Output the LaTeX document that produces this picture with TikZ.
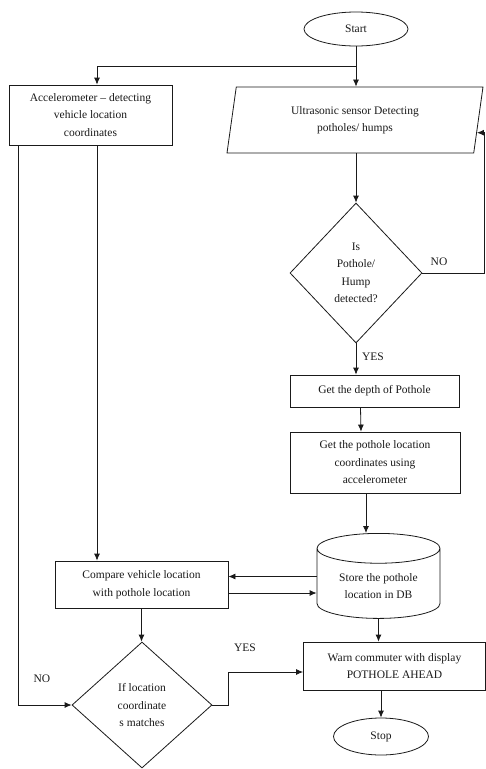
\documentclass[tikz,border=0pt]{standalone}
\usepackage{fontspec}
\setmainfont{Liberation Serif}
\usetikzlibrary{calc,arrows.meta,shapes.geometric}
\definecolor{ink}{HTML}{1A1A1A}
\tikzset{
  base/.style={draw=ink, line width=0.8pt},
  arr/.style={draw=ink, line width=0.8pt, -{Latex[length=7pt,width=6pt]}},
  txt/.style={text=ink, font=\fontsize{11.5pt}{17.5pt}\selectfont},
  box/.style={base, txt, rectangle, align=center, inner sep=2pt},
  term/.style={base, txt, ellipse, inner sep=0pt},
  dec/.style={base, txt, diamond, align=center, inner sep=0pt},
  io/.style={base, txt, trapezium, trapezium left angle=75, trapezium right angle=105,
    trapezium stretches body, align=center},
  store/.style={base, txt, cylinder, shape border rotate=90, aspect=0.35, align=center},
}

\begin{document}
\begin{tikzpicture}[x=1pt,y=-1pt]
  \path[fill=white, use as bounding box] (0,0) rectangle (486,769);
  % shapes
  \node[term, minimum width=104pt, minimum height=34pt] (start) at (356,29) {Start};
  \node[box, minimum width=163pt, minimum height=60pt] (acc) at (90.5,115) {Accelerometer -- detecting\\vehicle location\\coordinates};
  \node[io, minimum width=256pt, minimum height=66pt] (ultra) at (355,120) {Ultrasonic sensor Detecting\\potholes/ humps};
  \node[dec, minimum width=132pt, minimum height=140pt] (hump) at (356,273) {Is\\Pothole/\\Hump\\detected?};
  \node[box, minimum width=169pt, minimum height=32pt] (depth) at (374.5,391) {Get the depth of Pothole};
  \node[box, minimum width=170pt, minimum height=61pt] (loc) at (375,462.5) {Get the pothole location\\coordinates using\\accelerometer};
  \node[store, minimum width=123pt, minimum height=85pt, anchor=north] (db) at (378.5,533) {Store the pothole\\location in DB};
  \node[box, minimum width=173pt, minimum height=47pt] (cmp) at (141.5,584.5) {Compare vehicle location\\with pothole location};
  \node[dec, minimum width=140pt, minimum height=126pt] (match) at (142,705) {If location\\coordinate\\s matches};
  \node[box, minimum width=182pt, minimum height=48pt] (warn) at (394.5,666) {Warn commuter with display\\POTHOLE AHEAD};
  \node[term, minimum width=95pt, minimum height=37pt] (stop) at (381,736.5) {Stop};
  % helper points
  \coordinate (split) at (356,66);
  \coordinate (lx) at (18,0);
  \coordinate (vx) at (97,0);
  \coordinate (rx) at (484,0);
  \coordinate (uin) at ($(ultra.top right corner)!0.69!(ultra.bottom right corner)$);
  \coordinate (c1) at ($(cmp.east)+(0,-8)$);
  \coordinate (c2) at ($(cmp.east)+(0,8.5)$);
  % connectors
  \draw[base] (start) -- (split);
  \draw[arr] (split) -- (split |- ultra.north);
  \draw[arr] (split) -| (vx |- acc.north);
  \draw[arr] (vx |- acc.south) -- (vx |- cmp.north);
  \draw[arr] (lx |- acc.south) |- (match.west);
  \draw[arr] (split |- ultra.south) -- (hump.north);
  \draw[arr] (hump.east) -| (rx |- uin) -- (uin);
  \draw[arr] (hump.south) -- (hump.south |- depth.north);
  \draw[arr] ([xshift=-14pt]depth.south) -- ([xshift=-14pt]loc.north);
  \draw[arr] ([xshift=-9pt]loc.south) -- ([xshift=-9pt]loc.south |- db.north);
  \draw[arr] (c1 -| db.west) -- (c1);
  \draw[arr] (c2) -- (c2 -| db.west);
  \draw[arr] (cmp.south) -- (cmp.south |- match.north);
  \draw[arr] (match.east) -- ++(16,0) |- ([yshift=-6pt]warn.west);
  \draw[arr] (db.south) -- (db.south |- warn.north);
  \draw[arr] (stop.north |- warn.south) -- (stop.north);
  % labels
  \node[txt] (no1) at (439,262) {NO};
  \node[txt] (yes1) at (373,357) {YES};
  \node[txt] (yes2) at (245,648) {YES};
  \node[txt] (no2) at (42,679) {NO};
\end{tikzpicture}
\end{document}
